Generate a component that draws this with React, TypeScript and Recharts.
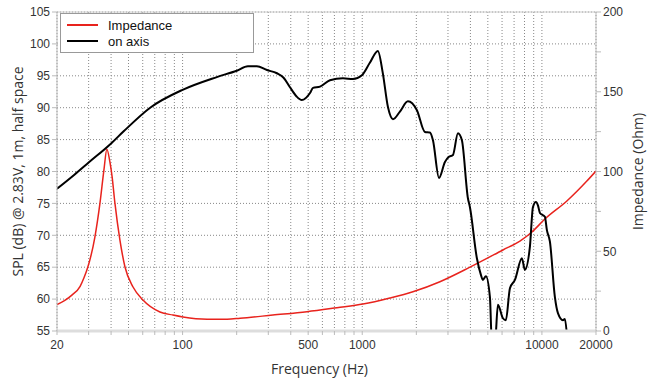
import React from "react";
import {
  LineChart, Line, XAxis, YAxis, CartesianGrid, Legend, ReferenceLine,
} from "recharts";

// on-axis SPL response (Hz, dB)
const splFreq = [
  20, 25, 30, 40, 47, 66, 100, 155, 200, 231, 259, 295, 335, 365, 396, 430, 461, 512, 532, 582,
  661, 781, 888, 996, 1100, 1222, 1300, 1390, 1482, 1621, 1796, 2015, 2232, 2380, 2475,
  2673, 2886, 3037, 3198, 3409, 3586, 3874, 3975, 4346, 4576, 4690, 4878, 5136, 5270,
  5476, 5690, 6068, 6300, 6638, 7074, 7736, 8038, 8572, 8912, 9262, 9502, 9750, 10390,
  10660, 11080, 11810, 12280, 13090, 13420, 13770,
];
const splValues = [
  77.3, 79.5, 81.4, 84.4, 86.3, 90.0, 92.8, 94.8, 95.8, 96.5, 96.5, 95.9, 95.4, 94.7, 93.2, 91.8, 91.2, 92.3, 93.1, 93.3,
  94.3, 94.6, 94.5, 95.1, 97.0, 98.9, 95.5, 90.1, 88.2, 89.4, 91.0, 89.6, 86.2, 86.1, 84.9,
  79.0, 81.5, 82.3, 82.6, 86.0, 84.9, 75.8, 74.4, 66.4, 63.8, 63.0, 63.6, 60.3, 53,
  53, 59.1, 57.0, 56.7, 61.7, 63.0, 66.4, 64.6, 68.2, 74.4, 75.2, 74.7, 73.5, 72.9,
  70.8, 69.0, 60.3, 57.8, 56.7, 56.9, 54.5,
];

// impedance (Hz, Ohm)
const impFreq = [
  20, 22, 24.2, 26.9, 28.3, 29.7, 32.5, 34.7, 36.5, 37.9, 39.4, 40.5, 42, 44.8, 47.8, 53, 60.2,
  74.8, 88.4, 100.5, 137, 177, 209, 318, 492, 723, 1009, 1426, 1914, 2706, 3975,
  6068, 7544, 8800, 10390, 13770, 17790, 20000,
];
const impValues = [
  16.5, 19.0, 22.5, 28.0, 33.5, 40.1, 58.9, 80.3, 101, 114, 106, 97, 80.3, 57, 40.1, 27.6, 19.4,
  11.9, 10.0, 8.8, 7.4, 7.4, 8.0, 10.0, 12.1, 14.6, 16.9, 20.7, 24.6, 30.9, 40.0,
  50.8, 56.4, 62.1, 70.2, 81.5, 94.0, 100.3,
];

const freqTicks = [
  20, 30, 40, 50, 60, 70, 80, 90, 100, 200, 300, 400, 500, 600, 700, 800, 900,
  1000, 2000, 3000, 4000, 5000, 6000, 7000, 8000, 9000, 10000, 20000,
];
const freqLabels = [20, 100, 500, 1000, 10000, 20000];
const splTicks = [55, 60, 65, 70, 75, 80, 85, 90, 95, 100, 105];
const impTicks = [0, 25, 50, 75, 100, 125, 150, 175, 200];
const impLabels = [0, 50, 100, 150, 200];

const splData = splFreq.map((f, i) => ({ f, spl: splValues[i] }));
const impData = impFreq.map((f, i) => ({ f, imp: impValues[i] }));

const tickStyle = { fontSize: 12, fill: "#333", fontFamily: "Liberation Sans, Arial, sans-serif" };
const titleFont = "'Open Sans', 'Noto Sans', sans-serif";

function VerticalTitle(props: any) {
  const { viewBox, value, dx } = props;
  const cx = viewBox.x + dx;
  const cy = viewBox.y + viewBox.height / 2;
  return (
    <text
      x={cx} y={cy} transform={`rotate(-90, ${cx}, ${cy})`}
      textAnchor="middle" dominantBaseline="central"
      fontSize={14} fill="#333" fontFamily={titleFont}
    >
      {value}
    </text>
  );
}

function BottomTitle(props: any) {
  const { viewBox, value } = props;
  return (
    <text
      x={viewBox.x + viewBox.width / 2 - 7} y={viewBox.y + 37}
      textAnchor="middle" dominantBaseline="central"
      fontSize={14} fill="#333" fontFamily={titleFont}
    >
      {value}
    </text>
  );
}

function LegendBox(props: any) {
  const items = props.payload || [];
  return (
    <div style={{
      border: "1px solid #999", background: "#fff", padding: "3px 6px",
      fontFamily: "Liberation Sans, Arial, sans-serif", fontSize: 13, color: "#111",
    }}>
      {items.map((it: any) => (
        <div key={it.value} style={{ display: "flex", alignItems: "center", height: 16 }}>
          <span style={{ width: 31, borderTop: `2px solid ${it.color}`, marginRight: 10 }} />
          <span>{it.value}</span>
        </div>
      ))}
    </div>
  );
}

export default function App() {
  return (
    <div style={{ width: 650, height: 382 }}>
      <style>{`body{margin:0}`}</style>
      <LineChart width={650} height={382} margin={{ top: 12, right: 0, bottom: 0, left: 0 }}>
        <CartesianGrid yAxisId="spl" stroke="#888" strokeDasharray="1 2" />
        <XAxis
          dataKey="f" type="number" scale="log" domain={[20, 20000]} allowDataOverflow
          ticks={freqTicks} interval={0} height={51}
          tickFormatter={(v: number) => (freqLabels.includes(v) ? String(v) : "")}
          tick={tickStyle} tickSize={4} tickMargin={5}
          axisLine={{ stroke: "#ddd", strokeWidth: 3 }} tickLine={{ stroke: "#bbb" }}
          label={{ value: "Frequency (Hz)", content: BottomTitle }}
        />
        <YAxis
          yAxisId="spl" domain={[55, 105]} ticks={splTicks} interval={0} allowDataOverflow
          width={57} tick={tickStyle} tickSize={5} tickMargin={2}
          axisLine={{ stroke: "#bbb" }} tickLine={{ stroke: "#bbb" }}
          label={{ value: "SPL (dB) @ 2.83V, 1m, half space", content: (p: any) => <VerticalTitle {...p} dx={17} /> }}
        />
        <YAxis
          yAxisId="imp" orientation="right" domain={[0, 200]} ticks={impTicks} interval={0}
          width={54} tick={tickStyle} tickSize={5} tickMargin={2}
          tickFormatter={(v: number) => (impLabels.includes(v) ? String(v) : "")}
          axisLine={{ stroke: "#bbb" }} tickLine={{ stroke: "#bbb" }}
          label={{ value: "Impedance (Ohm)", content: (p: any) => <VerticalTitle {...p} dx={41} /> }}
        />
        <ReferenceLine yAxisId="spl" y={105} stroke="#ccc" />
        <Legend
          layout="horizontal" verticalAlign="middle" align="center"
          wrapperStyle={{ top: 13, left: 60, width: 194 }}
          content={LegendBox}
        />
        <Line
          yAxisId="imp" data={impData} dataKey="imp" name="Impedance" type="monotone"
          stroke="#e8231d" strokeWidth={1.5} dot={false} isAnimationActive={false}
        />
        <Line
          yAxisId="spl" data={splData} dataKey="spl" name="on axis" type="monotone"
          stroke="#000" strokeWidth={2} dot={false} isAnimationActive={false}
        />
      </LineChart>
    </div>
  );
}
